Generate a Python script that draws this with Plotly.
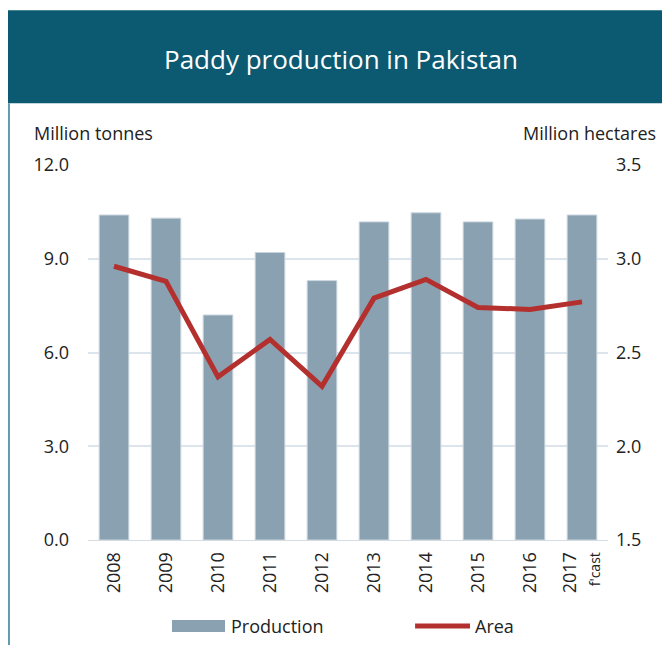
import plotly.graph_objects as go

years = ["2008", "2009", "2010", "2011", "2012", "2013", "2014", "2015", "2016", "2017"]
tick_labels = ["2008", "2009", "2010", "2011", "2012", "2013", "2014", "2015", "2016",
               "2017<br><span style='font-size:14px'>f'cast</span>"]
production = [10.4, 10.3, 7.2, 9.2, 8.3, 10.18, 10.47, 10.18, 10.27, 10.4]
area = [2.96, 2.88, 2.37, 2.57, 2.32, 2.79, 2.89, 2.74, 2.73, 2.77]

FONT = "Open Sans"
TEAL = "#0b5a71"
BAR = "#8aa1b1"
RED = "#b3302e"

fig = go.Figure()
fig.add_bar(x=years, y=production, name="Production", marker_color=BAR,
            marker_line=dict(color="#c9d5de", width=1), width=0.57, showlegend=False)
fig.add_scatter(x=years, y=area, name="Area", mode="lines", yaxis="y2",
                line=dict(color=RED, width=5), showlegend=False)

# page body adds 8px offset, so margins are shifted by -8
fig.update_layout(
    width=670, height=645,
    margin=dict(l=80, r=70, t=157, b=113, autoexpand=False),
    plot_bgcolor="white", paper_bgcolor="white",
    font=dict(family=FONT, size=18, color="#222"),
    xaxis=dict(tickmode="array", tickvals=years, ticktext=tick_labels, tickangle=-90,
               showgrid=False, showline=True, linecolor="#d5dde3", linewidth=1,
               ticks="", tickfont=dict(size=18), ticklabelstandoff=4),
    yaxis=dict(range=[0, 12], tickvals=[0, 3, 6, 9, 12], tickformat=".1f",
               showgrid=True, gridcolor="#dde5ec", gridwidth=2, zeroline=False,
               ticks="", ticklabelstandoff=18),
    yaxis2=dict(range=[1.5, 3.5], tickvals=[1.5, 2.0, 2.5, 3.0, 3.5], tickformat=".1f",
                overlaying="y", side="right", showgrid=False, zeroline=False,
                ticks="", ticklabelstandoff=7),
    bargap=0.43,
)

# title band and frame
fig.add_shape(type="rect", xref="paper", yref="paper", x0=-0.156, x1=1.12,
              y0=1.165, y1=1.413, fillcolor=TEAL, line_width=0, layer="below")
fig.add_shape(type="line", xref="paper", yref="paper", x0=-0.152, x1=-0.152,
              y0=-0.28, y1=1.165, line=dict(color="#5f9bb0", width=2))
fig.add_annotation(text="Paddy production in Pakistan", xref="paper", yref="paper",
                   x=0.4865, y=1.283, xanchor="center", yanchor="middle", showarrow=False,
                   font=dict(family=FONT, size=26, color="white"))
fig.add_annotation(text="Million tonnes", xref="paper", yref="paper", x=-0.108, y=1.085,
                   xanchor="left", yanchor="middle", showarrow=False)
fig.add_annotation(text="Million hectares", xref="paper", yref="paper", x=1.0962, y=1.085,
                   xanchor="right", yanchor="middle", showarrow=False)

# legend drawn by hand to get the wide bar swatch
fig.add_shape(type="rect", xref="paper", yref="paper", x0=0.1615, x1=0.2635,
              y0=-0.2453, y1=-0.2133, fillcolor=BAR, line_width=0)
fig.add_shape(type="line", xref="paper", yref="paper", x0=0.629, x1=0.7346,
              y0=-0.2293, y1=-0.2293, line=dict(color=RED, width=5))
fig.add_annotation(text="Production", xref="paper", yref="paper", x=0.271, y=-0.2293,
                   xanchor="left", yanchor="middle", showarrow=False)
fig.add_annotation(text="Area", xref="paper", yref="paper", x=0.740, y=-0.2293,
                   xanchor="left", yanchor="middle", showarrow=False)

fig.write_html("out.html")
